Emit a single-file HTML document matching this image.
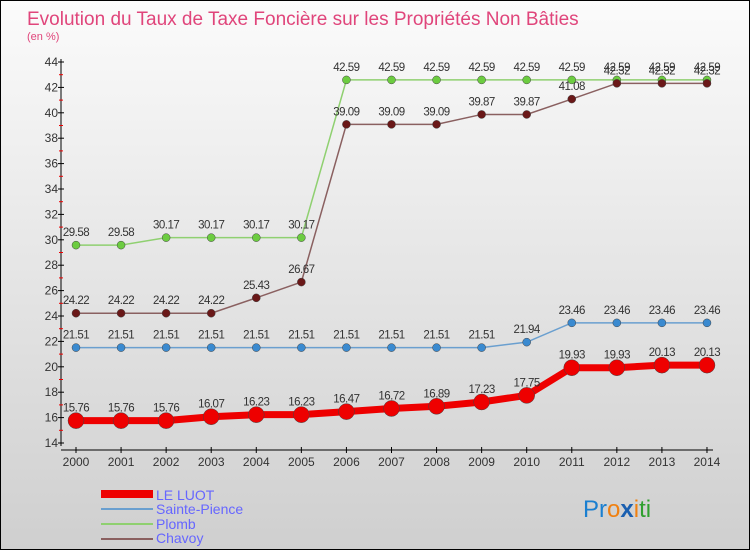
<!DOCTYPE html>
<html><head><meta charset="utf-8"><style>
html,body{margin:0;padding:0}
body{width:750px;height:550px;overflow:hidden;font-family:"Liberation Sans",sans-serif}
#wrap{position:relative;width:748px;height:548px;border:1px solid #000;background:linear-gradient(#fbfbfb,#cfcfcf)}
</style></head><body>
<div id="wrap">
<svg id="chart" width="748" height="548" style="position:absolute;left:0;top:0">
<text x="26" y="24" font-size="19" fill="#e0457b">Evolution du Taux de Taxe Foncière sur les Propriétés Non Bâties</text>
<text x="26" y="39" font-size="11" fill="#e0457b">(en %)</text>
<g id="axes"></g><g id="series"></g>
<g>
<rect x="100" y="489" width="52" height="8" fill="#e00"/>
<text x="155" y="499" font-size="14" fill="#66f">LE LUOT</text>
<rect x="100" y="507" width="52" height="2" fill="#6a9fcf"/>
<text x="155" y="513" font-size="14" fill="#66f">Sainte-Pience</text>
<rect x="100" y="522" width="52" height="2" fill="#8fd070"/>
<text x="155" y="528" font-size="14" fill="#66f">Plomb</text>
<rect x="100" y="537" width="52" height="2" fill="#8a6060"/>
<text x="155" y="542" font-size="14" fill="#66f">Chavoy</text>
</g>
<text x="582" y="516" font-size="24"><tspan fill="#1a7fd0">Pr</tspan><tspan fill="#f08010">o</tspan><tspan fill="#1a5fb0" font-weight="bold">x</tspan><tspan fill="#f08010">i</tspan><tspan fill="#30a030">ti</tspan></text>
</svg>
</div>
<script>
const years=[2000,2001,2002,2003,2004,2005,2006,2007,2008,2009,2010,2011,2012,2013,2014];
const leLuot=[15.76,15.76,15.76,16.07,16.23,16.23,16.47,16.72,16.89,17.23,17.75,19.93,19.93,20.13,20.13];
const saintePience=[21.51,21.51,21.51,21.51,21.51,21.51,21.51,21.51,21.51,21.51,21.94,23.46,23.46,23.46,23.46];
const plomb=[29.58,29.58,30.17,30.17,30.17,30.17,42.59,42.59,42.59,42.59,42.59,42.59,42.59,42.59,42.59];
const chavoy=[24.22,24.22,24.22,24.22,25.43,26.67,39.09,39.09,39.09,39.87,39.87,41.08,42.32,42.32,42.32];
const yTicks=[14,16,18,20,22,24,26,28,30,32,34,36,38,40,42,44];
const NS="http://www.w3.org/2000/svg";
const xs=i=>75+i*45.07;
const ys=v=>442-(v-14)*12.7;
function mk(p,t,a){const e=document.createElementNS(NS,t);for(const k in a)e.setAttribute(k,a[k]);p.appendChild(e);return e;}
const ax=document.getElementById('axes');
let l=mk(ax,'line',{x1:60,y1:58,x2:60,y2:445,stroke:'#000'});


l=mk(ax,'line',{x1:60,y1:449,x2:712,y2:449,stroke:'#000'});


yTicks.forEach(v=>{
 mk(ax,'line',{x1:57,x2:63,y1:ys(v),y2:ys(v),stroke:'#000'});
 if(v<44)mk(ax,'line',{x1:58,x2:62,y1:ys(v+1),y2:ys(v+1),stroke:'#e00'});
 const t=mk(ax,'text',{x:57,y:ys(v)+4,'font-size':12,'text-anchor':'end',fill:'#333'});t.textContent=v;
 
 
});
years.forEach((y,i)=>{
 mk(ax,'line',{x1:xs(i),x2:xs(i),y1:446,y2:452,stroke:'#000'});
 const t=mk(ax,'text',{x:xs(i),y:465,'font-size':12,'text-anchor':'middle',fill:'#333'});t.textContent=y;
 
 
});
const sg=document.getElementById('series');
function draw(name,data,line,dot,w,r){
 const g=mk(sg,'g',{});
 
 
 const pl=mk(g,'polyline',{points:data.map((v,i)=>xs(i)+','+ys(v)).join(' '),fill:'none',stroke:line,'stroke-width':w});
 
 
 data.forEach((v,i)=>{
  const c=mk(g,'circle',{cx:xs(i),cy:ys(v),r:r,fill:dot,stroke:'#444','stroke-width':0.5});
  
  
  const t=mk(g,'text',{x:xs(i),y:ys(v)-9,'font-size':11.5,'text-anchor':'middle',fill:'#333','letter-spacing':'-0.5'});t.textContent=v.toFixed(2).replace(/0$/,'').replace(/\.$/,'');t.textContent=String(v);
  
  
 });
}
draw('sainte-pience',saintePience,'#6a9fcf','#3a8ad0',1.5,4);
draw('plomb',plomb,'#8fd070','#6ccc40',1.5,4);
draw('chavoy',chavoy,'#8a6060','#6a1818',1.5,4);
draw('le-luot',leLuot,'#e00','#e00',7,8);
</script>
</body></html>
